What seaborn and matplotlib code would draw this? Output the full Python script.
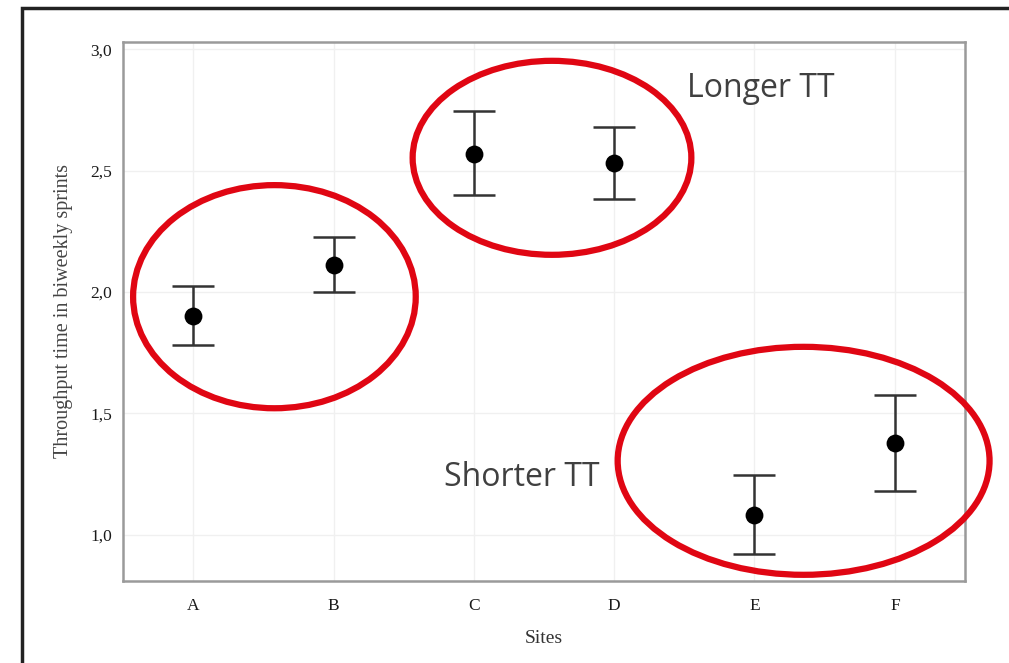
import matplotlib
matplotlib.use("Agg")
import matplotlib.pyplot as plt
from matplotlib.patches import Ellipse, Rectangle
import seaborn as sns
import pandas as pd
import numpy as np

# ---- data ----
sites = ["A", "B", "C", "D", "E", "F"]
mean_tt = [1.90, 2.11, 2.57, 2.53, 1.08, 1.38]
lower_ci = [1.78, 2.00, 2.40, 2.385, 0.92, 1.18]
upper_ci = [2.025, 2.225, 2.745, 2.68, 1.245, 1.575]
y_ticks = [1.0, 1.5, 2.0, 2.5, 3.0]
y_tick_labels = ["1,0", "1,5", "2,0", "2,5", "3,0"]

df = pd.DataFrame({"Sites": sites, "TT": mean_tt, "lo": lower_ci, "hi": upper_ci})

sns.set_theme(style="whitegrid")
plt.rcParams["font.family"] = ["Liberation Serif", "DejaVu Serif"]

fig = plt.figure(figsize=(10.09, 6.63), dpi=100)
ax = fig.add_axes([123 / 1009, 1 - 581 / 663, (965 - 123) / 1009, (581 - 42) / 663])

# error bars
yerr = np.vstack([df["TT"] - df["lo"], df["hi"] - df["TT"]])
ax.errorbar(df["Sites"], df["TT"], yerr=yerr, fmt="none", ecolor="#333333",
            elinewidth=1.8, capsize=15, capthick=1.8, zorder=2)
sns.scatterplot(data=df, x="Sites", y="TT", ax=ax, color="black", s=165,
                edgecolor="black", linewidth=0, zorder=3, legend=False)

ax.set_xlim(-0.5, 5.5)
ax.set_ylim(0.81, 3.03)
ax.set_yticks(y_ticks)
ax.set_yticklabels(y_tick_labels)
ax.set_xlabel("Sites", fontsize=14, color="#333333", labelpad=12)
ax.set_ylabel("Throughput time in biweekly sprints", fontsize=14.5, color="#444444", labelpad=12)
ax.tick_params(axis="both", which="both", length=4, width=1, color="#999999",
               labelsize=12.5, labelcolor="#1a1a1a", direction="out", pad=4)
ax.tick_params(axis="x", pad=8)
ax.grid(True, color="#f0f0f0", linewidth=1)
for s in ax.spines.values():
    s.set_color("#9a9a9a")
    s.set_linewidth(1.8)
ax.set_facecolor("white")

# annotations: red ellipses (data coords)
ell_specs = [((0.579, 1.981), 2.014, 0.919),
             ((2.557, 2.553), 1.986, 0.799),
             ((4.35, 1.305), 2.65, 0.939)]
for (cx, cy), w, h in ell_specs:
    e = Ellipse((cx, cy), w, h, fill=False, edgecolor="#e00613", linewidth=4.5,
                clip_on=False, zorder=5, transform=ax.transData)
    ax.add_patch(e)

ax.text(3.52, 2.84, "Longer TT", fontsize=23, color="#404040",
        family=["Open Sans", "DejaVu Sans"], va="center", ha="left", zorder=6)
ax.text(1.79, 1.235, "Shorter TT", fontsize=23, color="#404040",
        family=["Open Sans", "DejaVu Sans"], va="center", ha="left", zorder=6)

# outer frame (slide box)
frame = Rectangle((22 / 1009, -0.1), 1.2, 1 - 8 / 663 + 0.1, transform=fig.transFigure,
                  fill=False, edgecolor="#222222", linewidth=2.5, clip_on=False)
fig.patches.append(frame)

fig.savefig("out.png", dpi=100, facecolor="white")
